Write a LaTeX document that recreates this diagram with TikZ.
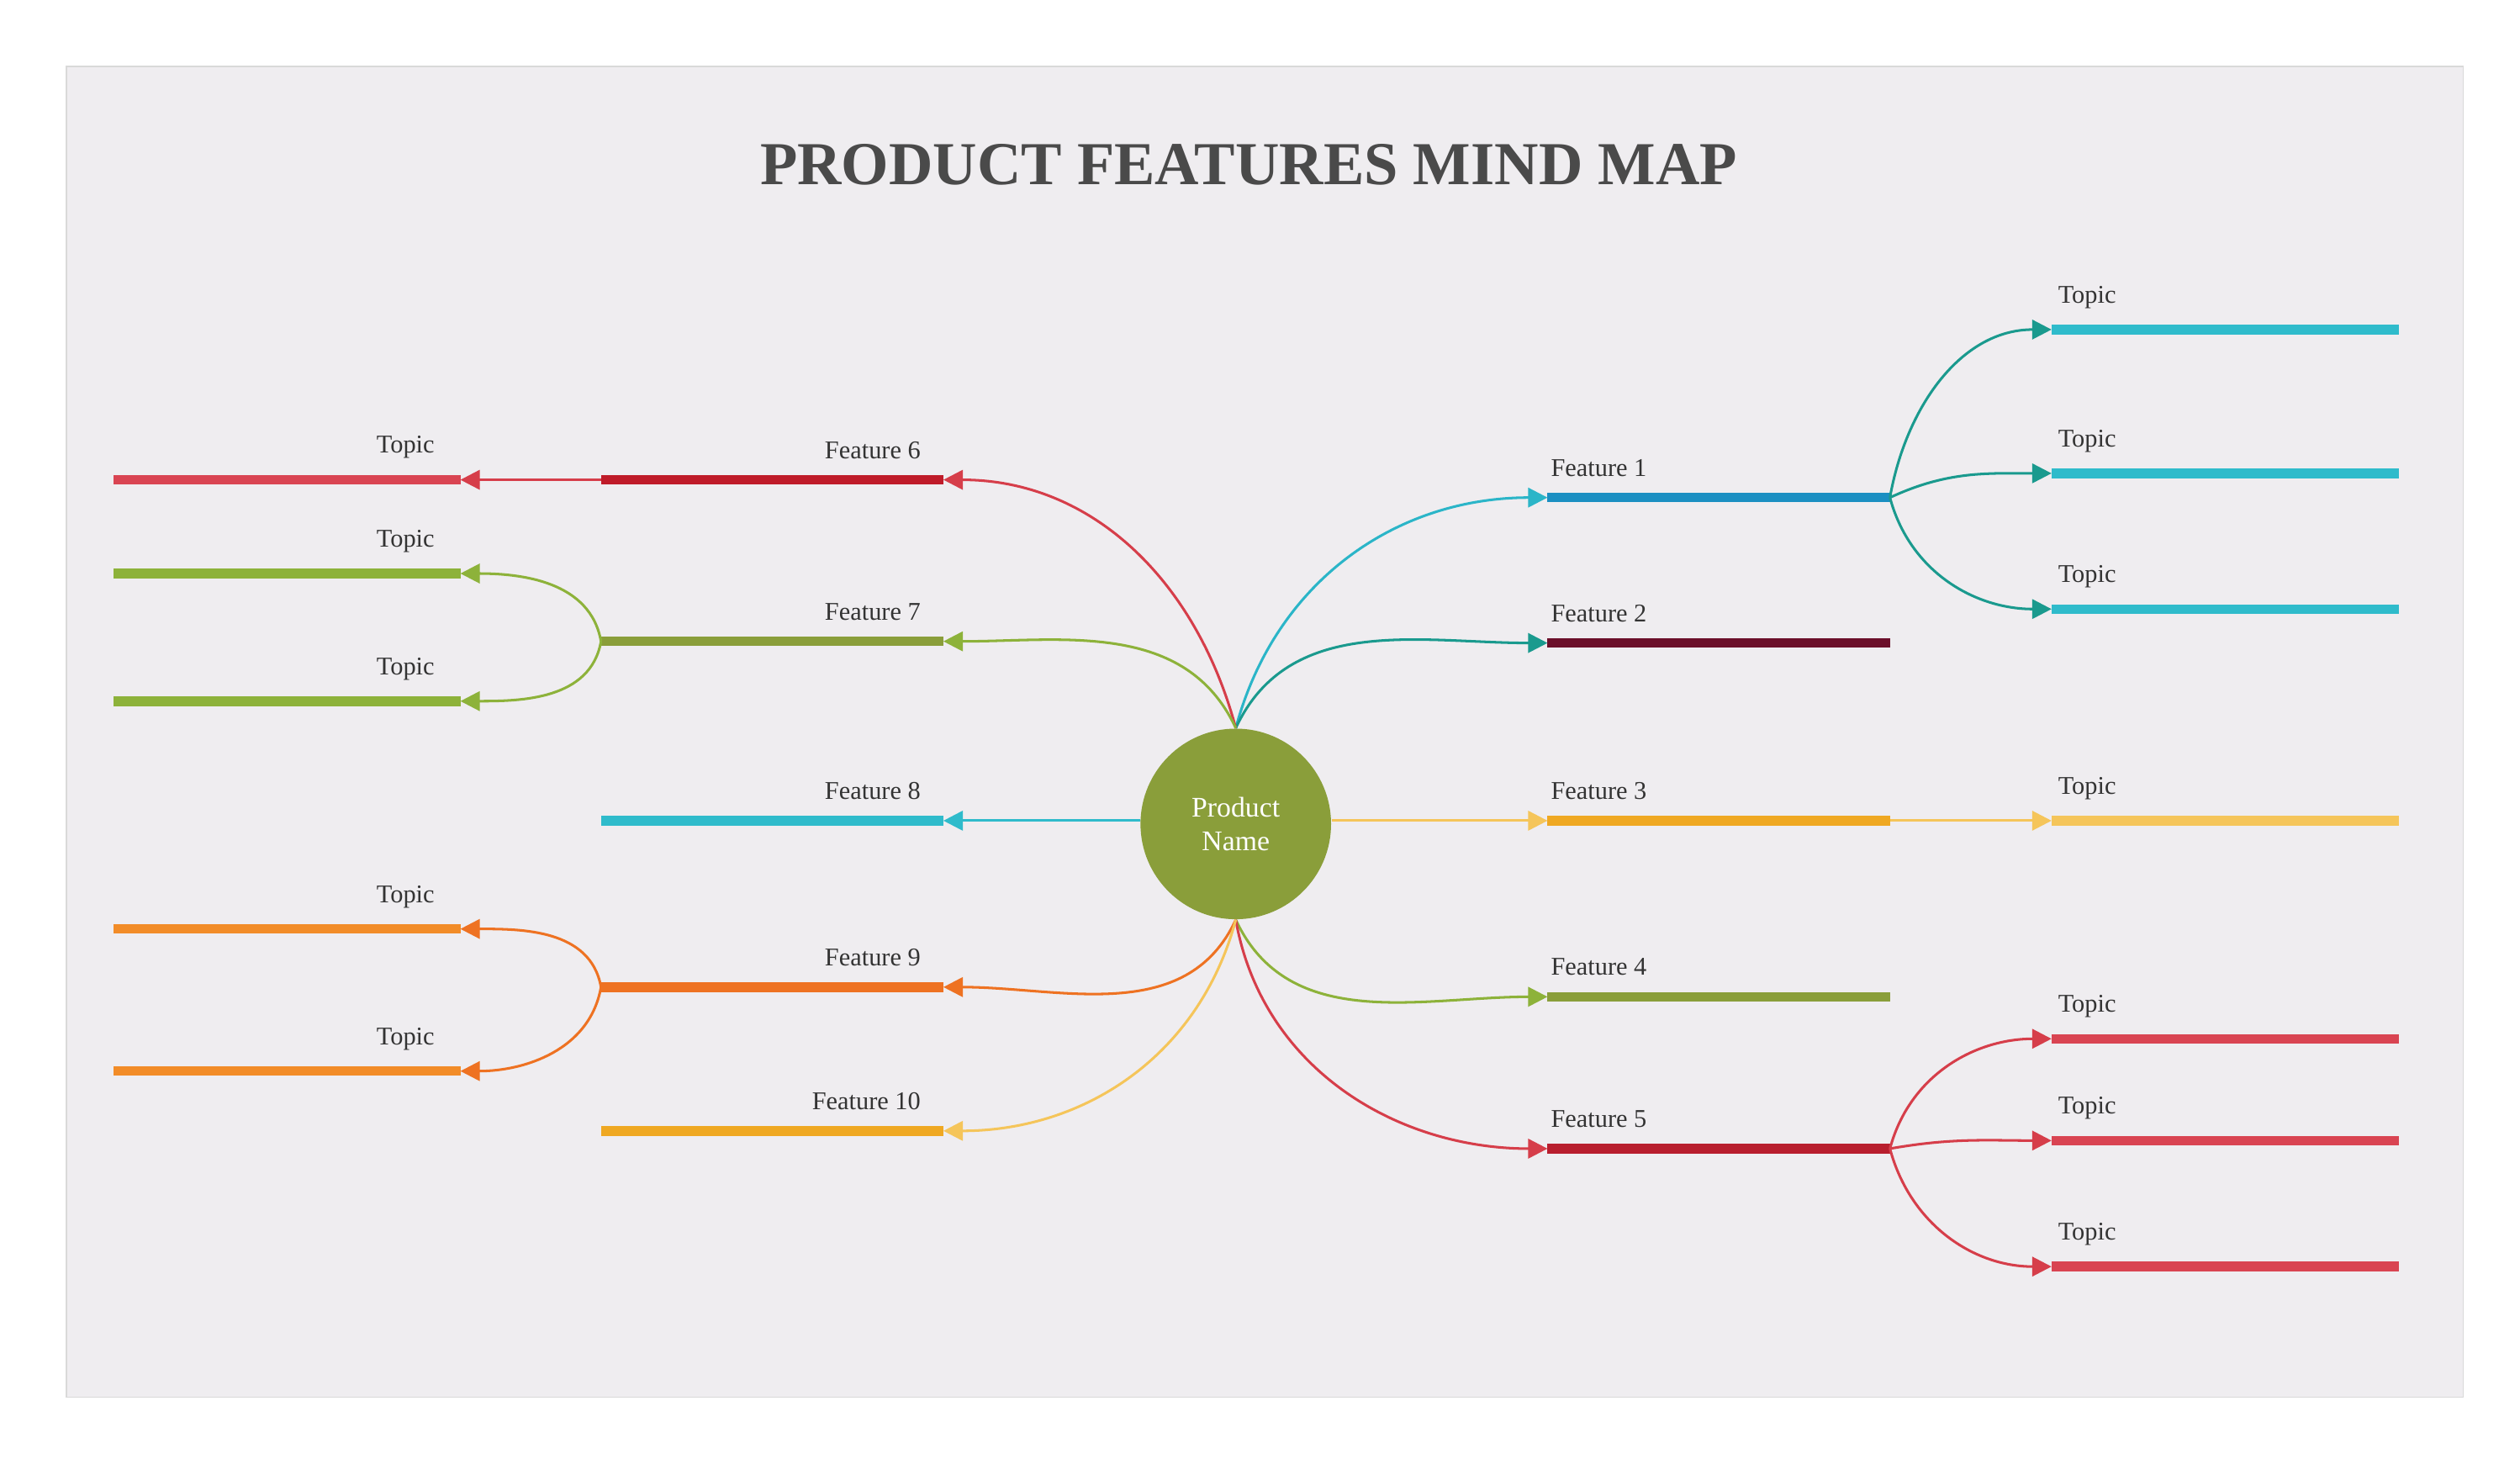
\documentclass[tikz,border=0pt]{standalone}
\usepackage{fontspec}
\setmainfont{Liberation Serif}
\usepackage{tikz}
\usetikzlibrary{positioning, shapes, arrows.meta, calc}

\definecolor{panel}{HTML}{EFEDF0}
\definecolor{titlegray}{HTML}{4A4A4A}
\definecolor{olive}{HTML}{8A9E3A}
\definecolor{lime}{HTML}{8DB23A}
\definecolor{blueb}{HTML}{1B8FC2}
\definecolor{cyanb}{HTML}{2FBBCB}
\definecolor{cyanl}{HTML}{2BB5C8}
\definecolor{teal}{HTML}{1A9A8E}
\definecolor{maroon}{HTML}{6B0F2A}
\definecolor{amber}{HTML}{EFA822}
\definecolor{amberl}{HTML}{F5C55A}
\definecolor{redb}{HTML}{B81E2E}
\definecolor{redl}{HTML}{D63E4A}
\definecolor{redt}{HTML}{D94452}
\definecolor{orangeb}{HTML}{EE7222}
\definecolor{oranget}{HTML}{F28C28}

\begin{document}
\begin{tikzpicture}[
    x=0.02cm, y=0.02cm,
    bar/.style={fill=#1, minimum width=4.24cm, minimum height=0.12cm, inner sep=0pt, outer sep=0pt},
    topicbar/.style={fill=#1, minimum width=4.3cm, minimum height=0.12cm, inner sep=0pt, outer sep=0pt},
    lbl/.style={font=\small, text=black!80, inner sep=1pt},
    link/.style={-{Triangle[length=0.24cm,width=0.24cm]}, draw=#1, line width=0.9pt},
]
\useasboundingbox (0,0) rectangle (1560,-902.6);

% Panel and title
\node[draw=black!15, fill=panel, minimum width=29.68cm, minimum height=16.48cm, inner sep=0pt] (panel) at (783,-453) {};
\node[font=\fontsize{21.5}{26}\selectfont\bfseries, text=titlegray] (title) at (773,-102) {PRODUCT FEATURES MIND MAP};

% Center
\node[circle, fill=olive, minimum size=2.36cm, text=white, align=center, font=\normalsize, inner sep=0pt] (center) at (765,-510) {Product\\Name};

% Features, right side
\node[bar=blueb, anchor=west] (f1) at (958,-308) {};
\node[bar=maroon, anchor=west] (f2) at (958,-398) {};
\node[bar=amber, anchor=west] (f3) at (958,-508) {};
\node[bar=olive, anchor=west] (f4) at (958,-617) {};
\node[bar=redb, anchor=west] (f5) at (958,-711) {};

% Features, left side
\node[bar={redb!90!red}, anchor=east] (f6) at (584,-297) {};
\node[bar=olive, anchor=east] (f7) at (584,-397) {};
\node[bar=cyanb, anchor=east] (f8) at (584,-508) {};
\node[bar=orangeb, anchor=east] (f9) at (584,-611) {};
\node[bar=amber, anchor=east] (f10) at (584,-700) {};

% Feature labels
\foreach \n/\t in {f1/Feature 1, f2/Feature 2, f3/Feature 3, f4/Feature 4, f5/Feature 5}
    \node[lbl, anchor=south west] at ($(\n.north west)+(0,8)$) {\t};
\foreach \n/\t in {f6/Feature 6, f7/Feature 7, f8/Feature 8, f9/Feature 9, f10/Feature 10}
    \node[lbl, anchor=south east] at ($(\n.north east)+(-12,8)$) {\t};

% Topics, right side
\node[topicbar=cyanb, anchor=west] (t1a) at (1270,-204) {};
\node[topicbar=cyanb, anchor=west] (t1b) at (1270,-293) {};
\node[topicbar=cyanb, anchor=west] (t1c) at (1270,-377) {};
\node[topicbar=amberl, anchor=west] (t3a) at (1270,-508) {};
\node[topicbar=redt, anchor=west] (t5a) at (1270,-643) {};
\node[topicbar=redt, anchor=west] (t5b) at (1270,-706) {};
\node[topicbar=redt, anchor=west] (t5c) at (1270,-784) {};

% Topics, left side
\node[topicbar=redt, anchor=east] (t6a) at (285,-297) {};
\node[topicbar=lime, anchor=east] (t7a) at (285,-355) {};
\node[topicbar=lime, anchor=east] (t7b) at (285,-434) {};
\node[topicbar=oranget, anchor=east] (t9a) at (285,-575) {};
\node[topicbar=oranget, anchor=east] (t9b) at (285,-663) {};

% Topic labels
\foreach \n in {t1a, t1b, t1c, t3a, t5a, t5b, t5c}
    \node[lbl, anchor=south west] at ($(\n.north west)+(2,8)$) {Topic};
\foreach \n in {t6a, t7a, t7b, t9a, t9b}
    \node[lbl, anchor=south east] at ($(\n.north east)+(-14,8)$) {Topic};

% Connections from center
\draw[link=cyanl] (center.north) to[out=75, in=180] (f1.west);
\draw[link=teal] (center.north) to[out=65, in=180] (f2.west);
\draw[link=amberl] (center.east |- f3.west) -- (f3.west);
\draw[link=lime] (center.south) to[out=-65, in=180] (f4.west);
\draw[link=redl] (center.south) to[out=-80, in=180] (f5.west);
\draw[link=redl] (center.north) to[out=105, in=0] (f6.east);
\draw[link=lime] (center.north) to[out=115, in=0] (f7.east);
\draw[link=cyanb] (center.west |- f8.east) -- (f8.east);
\draw[link=orangeb] (center.south) to[out=-115, in=0] (f9.east);
\draw[link=amberl] (center.south) to[out=-105, in=0] (f10.east);

% Connections to topics
\draw[link=teal] (f1.east) to[out=80, in=180] (t1a.west);
\draw[link=teal] (f1.east) to[out=25, in=180] (t1b.west);
\draw[link=teal] (f1.east) to[out=-75, in=180] (t1c.west);
\draw[link=amberl] (f3.east) -- (t3a.west);
\draw[link=redl] (f5.east) to[out=75, in=180] (t5a.west);
\draw[link=redl] (f5.east) to[out=10, in=180] (t5b.west);
\draw[link=redl] (f5.east) to[out=-75, in=180] (t5c.west);
\draw[link=redl] (f6.west) -- (t6a.east);
\draw[link=lime] (f7.west) to[out=100, in=0] (t7a.east);
\draw[link=lime] (f7.west) to[out=-100, in=0] (t7b.east);
\draw[link=orangeb] (f9.west) to[out=100, in=0] (t9a.east);
\draw[link=orangeb] (f9.west) to[out=-100, in=0] (t9b.east);

\end{tikzpicture}
\end{document}
